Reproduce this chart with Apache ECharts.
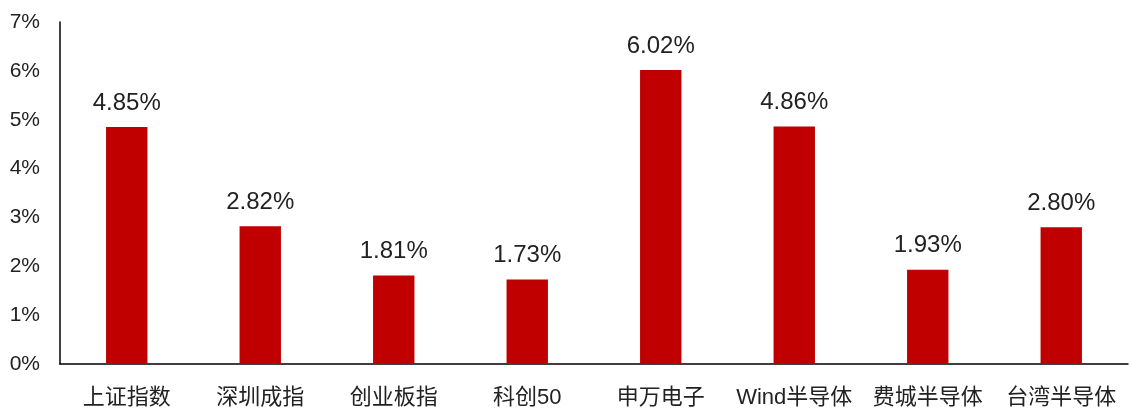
<!DOCTYPE html>
<html><head><meta charset="utf-8">
<script src="https://cdn.jsdelivr.net/npm/echarts@6/dist/echarts.min.js"></script>
<style>html,body{margin:0;padding:0;background:#fff;}#c{width:1130px;height:411px;}</style>
</head><body><div id="c"></div>
<script>
const categories = ['上证指数','深圳成指','创业板指','科创50','申万电子','Wind半导体','费城半导体','台湾半导体'];
const values = [4.85, 2.82, 1.81, 1.73, 6.02, 4.86, 1.93, 2.80];
const yTicks = [0,1,2,3,4,5,6,7];
const font = "Arial, 'Liberation Sans', 'Noto Sans CJK SC', sans-serif";
const chart = echarts.init(document.getElementById('c'));
chart.setOption({
  animation:false,
  grid:{left:60,right:2,top:22,bottom:47},
  xAxis:{type:'category',data:categories,
    axisLine:{lineStyle:{color:'#000',width:1.5}},axisTick:{show:false},
    axisLabel:{color:'#222',fontSize:22,fontFamily:font,margin:23,interval:0}},
  yAxis:{type:'value',min:yTicks[0],max:yTicks[yTicks.length-1],interval:1,
    axisLine:{show:true,lineStyle:{color:'#000',width:1.5}},axisTick:{show:false},
    splitLine:{show:false},
    axisLabel:{color:'#222',fontSize:21,fontFamily:font,margin:20,formatter:v=>v+'%'}},
  series:[{type:'bar',data:values,barWidth:'31%',itemStyle:{color:'#C00000'},
    label:{show:true,position:'top',distance:12,color:'#222',fontSize:24,fontFamily:font,
      formatter:p=>p.value.toFixed(2)+'%'}}]
});
</script></body></html>
